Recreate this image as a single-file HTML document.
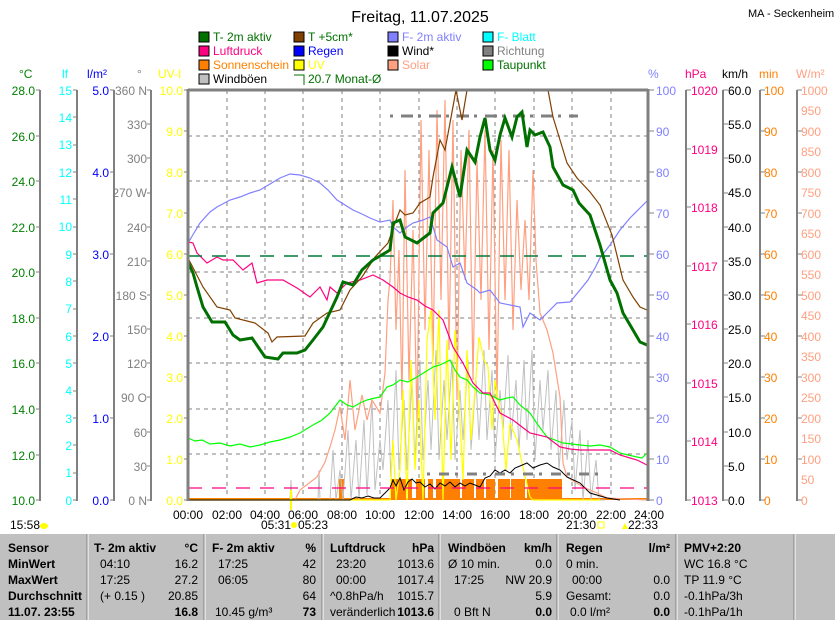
<!DOCTYPE html>
<html><head><meta charset="utf-8"><style>
body{margin:0;background:#fff;}
svg{display:block;font-family:"Liberation Sans",sans-serif;}
</style></head><body>
<svg width="835" height="620" viewBox="0 0 835 620" xmlns="http://www.w3.org/2000/svg">
<rect width="835" height="620" fill="#fff"/>
<text x="420" y="22" font-size="16" text-anchor="middle">Freitag, 11.07.2025</text>
<text x="748" y="17" font-size="11">MA - Seckenheim</text>
<g font-size="12">
<rect x="199" y="32" width="10" height="10" fill="#007000" stroke="#000"/><text x="213" y="41" fill="#007000">T- 2m aktiv</text>
<rect x="294" y="32" width="10" height="10" fill="#804000" stroke="#000"/><text x="308" y="41" fill="#007000">T +5cm*</text>
<rect x="388" y="32" width="10" height="10" fill="#8080ff" stroke="#000"/><text x="402" y="41" fill="#8080ff">F- 2m aktiv</text>
<rect x="483" y="32" width="10" height="10" fill="#00ffff" stroke="#000"/><text x="497" y="41" fill="#00ffff">F- Blatt</text>
<rect x="199" y="46" width="10" height="10" fill="#ff0080" stroke="#000"/><text x="213" y="55" fill="#ff0080">Luftdruck</text>
<rect x="294" y="46" width="10" height="10" fill="#0000ff" stroke="#000"/><text x="308" y="55" fill="#0000ff">Regen</text>
<rect x="388" y="46" width="10" height="10" fill="#000" stroke="#000"/><text x="402" y="55" fill="#000">Wind*</text>
<rect x="483" y="46" width="10" height="10" fill="#808080" stroke="#000"/><text x="497" y="55" fill="#808080">Richtung</text>
<rect x="199" y="60" width="10" height="10" fill="#ff8000" stroke="#000"/><text x="213" y="69" fill="#ff8000">Sonnenschein</text>
<rect x="294" y="60" width="10" height="10" fill="#ffff00" stroke="#000"/><text x="308" y="69" fill="#ffff00">UV</text>
<rect x="388" y="60" width="10" height="10" fill="#ffa080" stroke="#000"/><text x="402" y="69" fill="#ffa080">Solar</text>
<rect x="483" y="60" width="10" height="10" fill="#00ff00" stroke="#000"/><text x="497" y="69" fill="#007000">Taupunkt</text>
<rect x="199" y="74" width="10" height="10" fill="#c0c0c0" stroke="#000"/><text x="213" y="83" fill="#000">Windböen</text>
<path d="M294 75 H304 V85" fill="none" stroke="#007000"/><text x="308" y="83" fill="#007000">20.7 Monat-Ø</text>
</g>
<g font-size="12">
<text x="19" y="78" fill="#008000">°C</text>
<text x="62" y="78" fill="#00ffff">lf</text>
<text x="87" y="78" fill="#0000ff">l/m²</text>
<text x="137" y="78" fill="#808080">°</text>
<text x="158" y="78" fill="#ffff00">UV-I</text>
<text x="648" y="78" fill="#8080ff">%</text>
<text x="685" y="78" fill="#ff0080">hPa</text>
<text x="722" y="78" fill="#000">km/h</text>
<text x="759" y="78" fill="#ff8000">min</text>
<text x="796" y="78" fill="#ffa080">W/m²</text>
</g>
<g stroke="#808080" stroke-width="2">
<line x1="40" y1="90" x2="40" y2="501"/>
<line x1="77" y1="90" x2="77" y2="501"/>
<line x1="114" y1="90" x2="114" y2="501"/>
<line x1="151" y1="90" x2="151" y2="501"/>
<line x1="686" y1="90" x2="686" y2="501"/>
<line x1="723" y1="90" x2="723" y2="501"/>
<line x1="760" y1="90" x2="760" y2="501"/>
<line x1="797" y1="90" x2="797" y2="501"/>
</g>
<g stroke="#808080" stroke-width="1">
<path d="M36 90h4M36 136h4M36 181h4M36 227h4M36 272h4M36 318h4M36 363h4M36 409h4M36 455h4M36 500h4"/>
<path d="M73 90h4M73 117h4M73 145h4M73 172h4M73 199h4M73 227h4M73 254h4M73 281h4M73 309h4M73 336h4M73 363h4M73 391h4M73 418h4M73 445h4M73 473h4M73 500h4"/>
<path d="M110 90h4M110 172h4M110 254h4M110 336h4M110 418h4M110 500h4"/>
<path d="M147 90h4M147 124h4M147 158h4M147 193h4M147 227h4M147 261h4M147 295h4M147 329h4M147 363h4M147 397h4M147 432h4M147 466h4M147 500h4"/>
<path d="M184 90h4M184 131h4M184 172h4M184 213h4M184 254h4M184 295h4M184 336h4M184 377h4M184 418h4M184 459h4M184 500h4"/>
<path d="M648 90h6M648 131h6M648 172h6M648 213h6M648 254h6M648 295h6M648 336h6M648 377h6M648 418h6M648 459h6M648 500h6"/>
<path d="M686 90h5M686 149h5M686 207h5M686 266h5M686 324h5M686 383h5M686 441h5M686 500h5"/>
<path d="M723 90h5M723 124h5M723 158h5M723 193h5M723 227h5M723 261h5M723 295h5M723 329h5M723 363h5M723 397h5M723 432h5M723 466h5M723 500h5"/>
<path d="M760 90h5M760 131h5M760 172h5M760 213h5M760 254h5M760 295h5M760 336h5M760 377h5M760 418h5M760 459h5M760 500h5"/>
<path d="M797 90h5M797 131h5M797 172h5M797 213h5M797 254h5M797 295h5M797 336h5M797 377h5M797 418h5M797 459h5M797 500h5"/>
</g>
<g font-size="12" text-anchor="end">
<g fill="#008000">
<text x="35" y="95">28.0</text><text x="35" y="141">26.0</text><text x="35" y="186">24.0</text><text x="35" y="232">22.0</text><text x="35" y="277">20.0</text><text x="35" y="323">18.0</text><text x="35" y="368">16.0</text><text x="35" y="414">14.0</text><text x="35" y="460">12.0</text><text x="35" y="505">10.0</text>
</g>
<g fill="#00ffff">
<text x="72" y="95">15</text><text x="72" y="122">14</text><text x="72" y="149">13</text><text x="72" y="177">12</text><text x="72" y="204">11</text><text x="72" y="231">10</text><text x="72" y="259">9</text><text x="72" y="286">8</text><text x="72" y="313">7</text><text x="72" y="341">6</text><text x="72" y="368">5</text><text x="72" y="395">4</text><text x="72" y="423">3</text><text x="72" y="450">2</text><text x="72" y="477">1</text><text x="72" y="505">0</text>
</g>
<g fill="#0000ff">
<text x="109" y="95">5.0</text><text x="109" y="177">4.0</text><text x="109" y="259">3.0</text><text x="109" y="341">2.0</text><text x="109" y="423">1.0</text><text x="109" y="505">0.0</text>
</g>
<g fill="#808080">
<text x="147" y="95">360 N</text><text x="147" y="129">330</text><text x="147" y="163">300</text><text x="147" y="197">270 W</text><text x="147" y="232">240</text><text x="147" y="266">210</text><text x="147" y="300">180 S</text><text x="147" y="334">150</text><text x="147" y="368">120</text><text x="147" y="402">90 O</text><text x="147" y="437">60</text><text x="147" y="471">30</text><text x="147" y="505">0 N</text>
</g>
<g fill="#ffff00">
<text x="183" y="95">10.0</text><text x="183" y="136">9.0</text><text x="183" y="177">8.0</text><text x="183" y="218">7.0</text><text x="183" y="259">6.0</text><text x="183" y="300">5.0</text><text x="183" y="341">4.0</text><text x="183" y="382">3.0</text><text x="183" y="423">2.0</text><text x="183" y="464">1.0</text><text x="183" y="505">0.0</text>
</g>
</g>
<g font-size="12">
<g fill="#8080ff">
<text x="656" y="95">100</text><text x="656" y="136">90</text><text x="656" y="177">80</text><text x="656" y="218">70</text><text x="656" y="259">60</text><text x="656" y="300">50</text><text x="656" y="341">40</text><text x="656" y="382">30</text><text x="656" y="423">20</text><text x="656" y="464">10</text><text x="656" y="505">0</text>
</g>
<g fill="#ff0080">
<text x="691" y="95">1020</text><text x="691" y="154">1019</text><text x="691" y="212">1018</text><text x="691" y="271">1017</text><text x="691" y="329">1016</text><text x="691" y="388">1015</text><text x="691" y="446">1014</text><text x="691" y="505">1013</text>
</g>
<g fill="#000">
<text x="728" y="95">60.0</text><text x="728" y="129">55.0</text><text x="728" y="163">50.0</text><text x="728" y="197">45.0</text><text x="728" y="232">40.0</text><text x="728" y="266">35.0</text><text x="728" y="300">30.0</text><text x="728" y="334">25.0</text><text x="728" y="368">20.0</text><text x="728" y="402">15.0</text><text x="728" y="437">10.0</text><text x="728" y="471">5.0</text><text x="728" y="505">0.0</text>
</g>
<g fill="#ff8000">
<text x="764" y="95">100</text><text x="764" y="136">90</text><text x="764" y="177">80</text><text x="764" y="218">70</text><text x="764" y="259">60</text><text x="764" y="300">50</text><text x="764" y="341">40</text><text x="764" y="382">30</text><text x="764" y="423">20</text><text x="764" y="464">10</text><text x="764" y="505">0</text>
</g>
<g fill="#ffa080">
<text x="801" y="95">1000</text><text x="801" y="115">950</text><text x="801" y="136">900</text><text x="801" y="156">850</text><text x="801" y="177">800</text><text x="801" y="197">750</text><text x="801" y="218">700</text><text x="801" y="238">650</text><text x="801" y="259">600</text><text x="801" y="279">550</text><text x="801" y="300">500</text><text x="801" y="320">450</text><text x="801" y="341">400</text><text x="801" y="361">350</text><text x="801" y="382">300</text><text x="801" y="402">250</text><text x="801" y="423">200</text><text x="801" y="443">150</text><text x="801" y="464">100</text><text x="801" y="484">50</text><text x="801" y="505">0</text>
</g>
</g>
<g stroke="#808080" stroke-dasharray="4,4" stroke-width="1">
<line x1="188" y1="136" x2="648" y2="136"/><line x1="188" y1="181" x2="648" y2="181"/><line x1="188" y1="227" x2="648" y2="227"/><line x1="188" y1="272" x2="648" y2="272"/><line x1="188" y1="318" x2="648" y2="318"/><line x1="188" y1="363" x2="648" y2="363"/><line x1="188" y1="409" x2="648" y2="409"/><line x1="188" y1="454" x2="648" y2="454"/>
<line x1="227" y1="90" x2="227" y2="500"/><line x1="265" y1="90" x2="265" y2="500"/><line x1="303" y1="90" x2="303" y2="500"/><line x1="342" y1="90" x2="342" y2="500"/><line x1="380" y1="90" x2="380" y2="500"/><line x1="419" y1="90" x2="419" y2="500"/><line x1="457" y1="90" x2="457" y2="500"/><line x1="495" y1="90" x2="495" y2="500"/><line x1="534" y1="90" x2="534" y2="500"/><line x1="572" y1="90" x2="572" y2="500"/><line x1="611" y1="90" x2="611" y2="500"/>
</g>
<g fill="#ff8000">
<rect x="339" y="479" width="5" height="21"/><rect x="391" y="479" width="15" height="21"/><rect x="408" y="479" width="4" height="21"/><rect x="416" y="479" width="9" height="21"/><rect x="428" y="479" width="5" height="21"/><rect x="436" y="479" width="24" height="21"/><rect x="462" y="479" width="12" height="21"/><rect x="476" y="479" width="8" height="21"/><rect x="486" y="479" width="9" height="21"/><rect x="498" y="479" width="12" height="21"/><rect x="511" y="479" width="14" height="21"/><rect x="527" y="479" width="35" height="21"/>
<rect x="188" y="498" width="460" height="2"/>
</g>
<polyline fill="none" stroke="#c0c0c0" stroke-width="1" points="290,500 291,480 292,500 318,500 319,470 320,500 330,500 333,450 336,500 340,470 343,500 348,430 351,500 356,440 359,500 364,420 367,495 372,400 375,490 380,440 383,470 388,400 391,480 396,370 399,470 404,400 407,470 412,380 415,460 420,360 423,460 428,380 431,450 436,350 439,460 444,380 447,440 452,360 455,460 460,390 463,440 468,360 471,450 476,380 479,440 484,350 487,440 492,370 495,460 500,390 503,430 508,355 511,440 516,380 519,450 524,360 527,440 532,350 535,460 540,380 543,430 548,370 551,450 556,390 559,470 564,400 567,460 572,420 575,490 580,430 583,500 588,440 591,500 596,460 599,500 605,500"/>
<polyline fill="none" stroke="#ffa080" stroke-width="1.2" points="188,500 295,500 300,490 317,477 325,462 330,447 335,430 340,407 345,440 350,380 355,430 362,395 367,420 372,400 380,413 385,373 388,300 390,280 393,200 396,330 399,250 402,400 405,170 409,380 413,230 417,420 421,120 425,330 429,150 433,360 437,110 441,300 445,100 449,350 453,120 457,400 461,150 465,280 469,130 473,380 477,160 481,300 485,130 489,350 493,150 497,400 501,140 505,300 509,150 513,330 517,200 521,290 525,220 529,300 533,170 536,260 540,313 547,330 553,353 560,397 563,463 567,477 583,487 597,493 607,498 648,500"/>
<polyline fill="none" stroke="#ffff00" stroke-width="1.2" points="188,500 390,500 393,440 396,500 400,470 403,390 407,500 411,360 415,470 419,400 423,500 427,340 431,310 435,420 439,310 443,500 447,340 451,460 455,330 459,400 463,480 467,350 471,440 475,390 479,337 484,360 488,367 492,430 495,380 498,400 502,420 506,470 510,423 517,440 523,467 530,497 533,500 600,500"/>
<polyline fill="none" stroke="#ffff00" stroke-width="2" points="291,490 291,510"/>
<polyline fill="none" stroke="#000" stroke-width="1" points="188,500 350,500 356,497 362,498 368,496 374,498 380,498 385,493 390,488 393,480 396,486 400,478 404,490 408,482 412,479 416,483 420,482 425,487 430,484 435,489 440,483 445,486 450,482 455,487 460,483 465,486 470,483 475,485 480,487 485,478 490,476 495,470 500,473 505,470 510,473 515,468 520,466 527,463 533,468 540,465 547,463 553,467 560,470 567,477 580,483 590,493 607,498 620,500"/>
<line x1="390" y1="116" x2="578" y2="116" stroke="#808080" stroke-width="3" stroke-dasharray="3,8,12,5"/>
<line x1="427" y1="474" x2="600" y2="474" stroke="#808080" stroke-width="3" stroke-dasharray="3,9,10,6"/>
<polyline fill="none" stroke="#00ff00" stroke-width="1.2" points="188,438 195,441 202,440 210,444 220,443 230,446 240,444 250,447 260,445 270,442 280,440 290,437 300,433 313,425 322,420 330,413 340,400 347,405 353,407 360,403 367,400 375,398 380,397 387,387 393,385 400,380 408,382 417,377 425,372 433,367 440,365 450,360 455,370 460,377 467,380 473,387 480,393 490,395 500,400 507,398 513,397 520,405 530,413 538,425 547,437 555,440 563,443 572,444 580,445 590,446 600,445 610,447 620,453 628,455 637,457 642,458 647,453"/>
<polyline fill="none" stroke="#ff0080" stroke-width="1.2" points="188,242 193,243 197,253 207,263 217,257 223,260 233,260 243,270 252,263 257,283 267,280 283,280 297,288 300,290 307,295 310,297 320,287 327,300 330,287 337,293 347,283 360,280 373,275 383,280 393,287 400,293 408,297 417,300 425,306 433,310 443,320 453,347 463,363 473,383 483,393 490,393 500,413 513,420 522,427 530,433 547,437 560,447 570,449 580,450 595,450 610,450 620,455 630,458 637,460 647,465"/>
<polyline fill="none" stroke="#8080ff" stroke-width="1.2" points="188,243 200,223 210,212 217,207 230,200 240,197 250,193 260,190 270,184 280,178 290,174 300,175 310,178 320,183 328,190 337,200 345,205 353,210 362,214 370,218 380,222 390,220 393,227 400,233 407,227 413,223 423,220 430,217 437,240 447,247 453,267 460,263 467,283 477,290 480,293 490,290 500,303 510,305 520,307 523,327 530,313 540,320 547,313 557,303 570,302 580,290 588,280 595,268 600,258 610,245 620,230 630,218 640,208 648,200"/>
<line x1="188" y1="256" x2="648" y2="256" stroke="#007a3a" stroke-width="1.5" stroke-dasharray="14,10"/>
<line x1="188" y1="488" x2="648" y2="488" stroke="#ff0080" stroke-width="1.3" stroke-dasharray="14,10"/>
<polyline fill="none" stroke="#804000" stroke-width="1.2" points="188,258 203,287 217,307 230,310 235,318 255,323 268,333 272,342 277,337 305,336 313,323 327,313 340,310 350,290 362,277 375,257 388,243 395,223 400,210 405,215 413,213 420,203 430,197 433,177 440,140 445,150 450,123 456,90 462,120 467,90 548,90 553,117 560,140 567,163 577,178 590,192 600,205 612,235 623,280 633,297 640,307 647,310"/>
<polyline fill="none" stroke="#007000" stroke-width="3" points="188,262 193,273 197,287 203,307 212,322 225,322 233,335 240,340 252,338 265,357 278,359 283,353 297,353 305,350 313,340 323,327 330,312 337,297 343,282 353,285 362,270 373,260 380,256 390,250 393,223 400,220 405,237 417,243 430,233 433,213 443,203 452,167 460,197 467,150 475,162 480,137 485,118 490,150 495,160 500,135 505,118 512,137 517,117 522,112 527,147 530,130 535,135 543,132 550,147 553,167 563,185 573,190 579,203 590,215 600,245 610,280 617,293 623,313 633,330 640,342 647,345"/>
<g stroke="#808080" stroke-width="3" fill="none">
<line x1="188" y1="90" x2="648" y2="90"/>
<line x1="188" y1="89" x2="188" y2="501"/>
<line x1="648" y1="89" x2="648" y2="501"/>
</g>
<g font-size="12" text-anchor="middle">
<text x="188" y="519">00:00</text><text x="227" y="519">02:00</text><text x="265" y="519">04:00</text><text x="303" y="519">06:00</text><text x="342" y="519">08:00</text><text x="380" y="519">10:00</text><text x="419" y="519">12:00</text><text x="457" y="519">14:00</text><text x="495" y="519">16:00</text><text x="534" y="519">18:00</text><text x="572" y="519">20:00</text><text x="611" y="519">22:00</text><text x="649" y="519">24:00</text>
</g>
<g font-size="12">
<text x="10" y="529">15:58</text><ellipse cx="44" cy="526" rx="4" ry="3" fill="#ffff00"/>
<text x="261" y="529">05:31</text><circle cx="294" cy="525" r="3" fill="#ffff00"/><text x="298" y="529">05:23</text>
<text x="566" y="529">21:30</text><rect x="598" y="522" width="6" height="6" fill="none" stroke="#ffff00"/><path d="M622 529 l3 -6 l3 6z" fill="#ffff00"/><text x="628" y="529">22:33</text>
</g>
<rect x="0" y="534" width="835" height="86" fill="#c0c0c0"/>
<g stroke="#fff" stroke-width="1">
<line x1="88" y1="534" x2="88" y2="620"/><line x1="205" y1="534" x2="205" y2="620"/><line x1="323" y1="534" x2="323" y2="620"/><line x1="440" y1="534" x2="440" y2="620"/><line x1="558" y1="534" x2="558" y2="620"/><line x1="677" y1="534" x2="677" y2="620"/><line x1="795" y1="534" x2="795" y2="620"/>
</g>
<g stroke="#808080" stroke-width="1">
<line x1="87" y1="534" x2="87" y2="620"/><line x1="204" y1="534" x2="204" y2="620"/><line x1="322" y1="534" x2="322" y2="620"/><line x1="439" y1="534" x2="439" y2="620"/><line x1="557" y1="534" x2="557" y2="620"/><line x1="676" y1="534" x2="676" y2="620"/><line x1="794" y1="534" x2="794" y2="620"/>
</g>
<g font-size="12" fill="#000">
<g font-weight="bold"><text x="8" y="552">Sensor</text><text x="8" y="568">MinWert</text><text x="8" y="584">MaxWert</text><text x="8" y="600">Durchschnitt</text><text x="8" y="616">11.07. 23:55</text></g>
<text x="94" y="552" font-weight="bold">T- 2m aktiv</text><text x="100" y="568">04:10</text><text x="100" y="584">17:25</text><text x="100" y="600">(+ 0.15 )</text>
<g text-anchor="end"><text x="198" y="552" font-weight="bold">°C</text><text x="198" y="568">16.2</text><text x="198" y="584">27.2</text><text x="198" y="600">20.85</text><text x="198" y="616" font-weight="bold">16.8</text></g>
<text x="212" y="552" font-weight="bold">F- 2m aktiv</text><text x="218" y="568">17:25</text><text x="218" y="584">06:05</text><text x="215" y="616">10.45 g/m³</text>
<g text-anchor="end"><text x="316" y="552" font-weight="bold">%</text><text x="316" y="568">42</text><text x="316" y="584">80</text><text x="316" y="600">64</text><text x="316" y="616" font-weight="bold">73</text></g>
<text x="330" y="552" font-weight="bold">Luftdruck</text><text x="336" y="568">23:20</text><text x="336" y="584">00:00</text><text x="330" y="600">^0.8hPa/h</text><text x="330" y="616">veränderlich</text>
<g text-anchor="end"><text x="434" y="552" font-weight="bold">hPa</text><text x="434" y="568">1013.6</text><text x="434" y="584">1017.4</text><text x="434" y="600">1015.7</text><text x="434" y="616" font-weight="bold">1013.6</text></g>
<text x="448" y="552" font-weight="bold">Windböen</text><text x="448" y="568">Ø 10 min.</text><text x="454" y="584">17:25</text><text x="454" y="616">0 Bft N</text>
<g text-anchor="end"><text x="552" y="552" font-weight="bold">km/h</text><text x="552" y="568">0.0</text><text x="552" y="584">NW 20.9</text><text x="552" y="600">5.9</text><text x="552" y="616" font-weight="bold">0.0</text></g>
<text x="566" y="552" font-weight="bold">Regen</text><text x="566" y="568">0 min.</text><text x="572" y="584">00:00</text><text x="566" y="600">Gesamt:</text><text x="570" y="616">0.0 l/m²</text>
<g text-anchor="end"><text x="670" y="552" font-weight="bold">l/m²</text><text x="670" y="584">0.0</text><text x="670" y="600">0.0</text><text x="670" y="616" font-weight="bold">0.0</text></g>
<text x="684" y="552" font-weight="bold">PMV+2:20</text><text x="684" y="568">WC 16.8 °C</text><text x="684" y="584">TP 11.9 °C</text><text x="684" y="600">-0.1hPa/3h</text><text x="684" y="616">-0.1hPa/1h</text>
</g>
</svg>
</body></html>
